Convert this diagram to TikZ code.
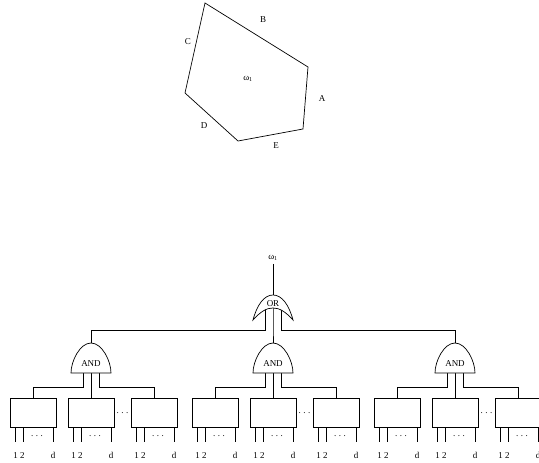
\documentclass[tikz,border=0pt]{standalone}
\usepackage{fontspec}
\setmainfont{Liberation Serif}
\usetikzlibrary{calc}
\tikzset{
  lbl/.style={font=\fontsize{9}{10}\selectfont,inner sep=0pt},
  wire/.style={line width=0.7pt},
  unitbox/.style={draw,line width=0.7pt,minimum width=46pt,minimum height=29pt,inner sep=0pt},
}
\newcommand{\sdots}{.\hspace{2.4pt}.\hspace{2.4pt}.}

\begin{document}
\begin{tikzpicture}[x=1pt,y=-1pt]
  \useasboundingbox (0,0) rectangle (539,463);
  % region in the plane
  \draw[wire] (205,3) -- (308,67) -- (303,129) -- (238,141) -- (185,93) -- cycle;
  \node[lbl] (lA) at (322,99) {A};
  \node[lbl] (lB) at (263,20) {B};
  \node[lbl] (lC) at (188,42) {C};
  \node[lbl] (lD) at (204,126) {D};
  \node[lbl] (lE) at (276,146) {E};
  \node[lbl] (lw) at (248,79) {ω\textsubscript{1}};

  % OR gate on top
  \node[lbl] (out) at (273,258) {ω\textsubscript{1}};
  \coordinate (ortop) at (273,295);
  \coordinate (orbase) at (273,300);
  \draw[wire] (out.south) ++(0,3) -- (ortop);

  \foreach \g/\cx/\dx in {1/91/-8,2/273/0,3/455/8}{
    \coordinate (andtop\g) at (\cx,343);
    \coordinate (andbase\g) at (\cx,373);
    \draw[wire] ($(orbase)+(\dx,0)$) -- ++(0,30) -| (andtop\g);
    \foreach \b/\bx in {1/-58,2/0,3/63}{
      \node[unitbox] (box\g\b) at (\cx+\bx,412.5) {};
      \foreach \px in {-18,-10,20}{\draw[wire] ($(box\g\b.south)+(\px,0)$) -- ++(0,15);}
      \node[lbl] at ($(box\g\b.south)+(-14,28)$) {1\hspace{2.5pt}2};
      \node[lbl] at ($(box\g\b.south)+(4,9)$) {\sdots};
      \node[lbl] at ($(box\g\b.south)+(20,28)$) {d};
    }
    \node[lbl] at ($(box\g2.east)!.5!(box\g3.west)+(0,1)$) {\sdots};
    \draw[wire] ($(andbase\g)+(-8,0)$) -- ++(0,14) -| (box\g1.north);
    \draw[wire] (andbase\g) -- (box\g2.north);
    \draw[wire] ($(andbase\g)+(8,0)$) -- ++(0,14) -| (box\g3.north);
    % AND gate
    \draw[wire,fill=white] (\cx-20,373) .. controls (\cx-20,361) and (\cx-11,343) .. (andtop\g)
      .. controls (\cx+11,343) and (\cx+20,361) .. (\cx+20,373) -- cycle;
    \node[lbl] (and\g) at (\cx,363.5) {AND};
  }

  \draw[wire,fill=white] (253,320) .. controls (257,305) and (264,295) .. (ortop)
    .. controls (282,295) and (289,305) .. (293,320)
    .. controls (285,311) and (279,308) .. (273,308)
    .. controls (267,308) and (261,311) .. (253,320) -- cycle;
  \node[lbl] (orgate) at (273,303.5) {OR};
\end{tikzpicture}
\end{document}
